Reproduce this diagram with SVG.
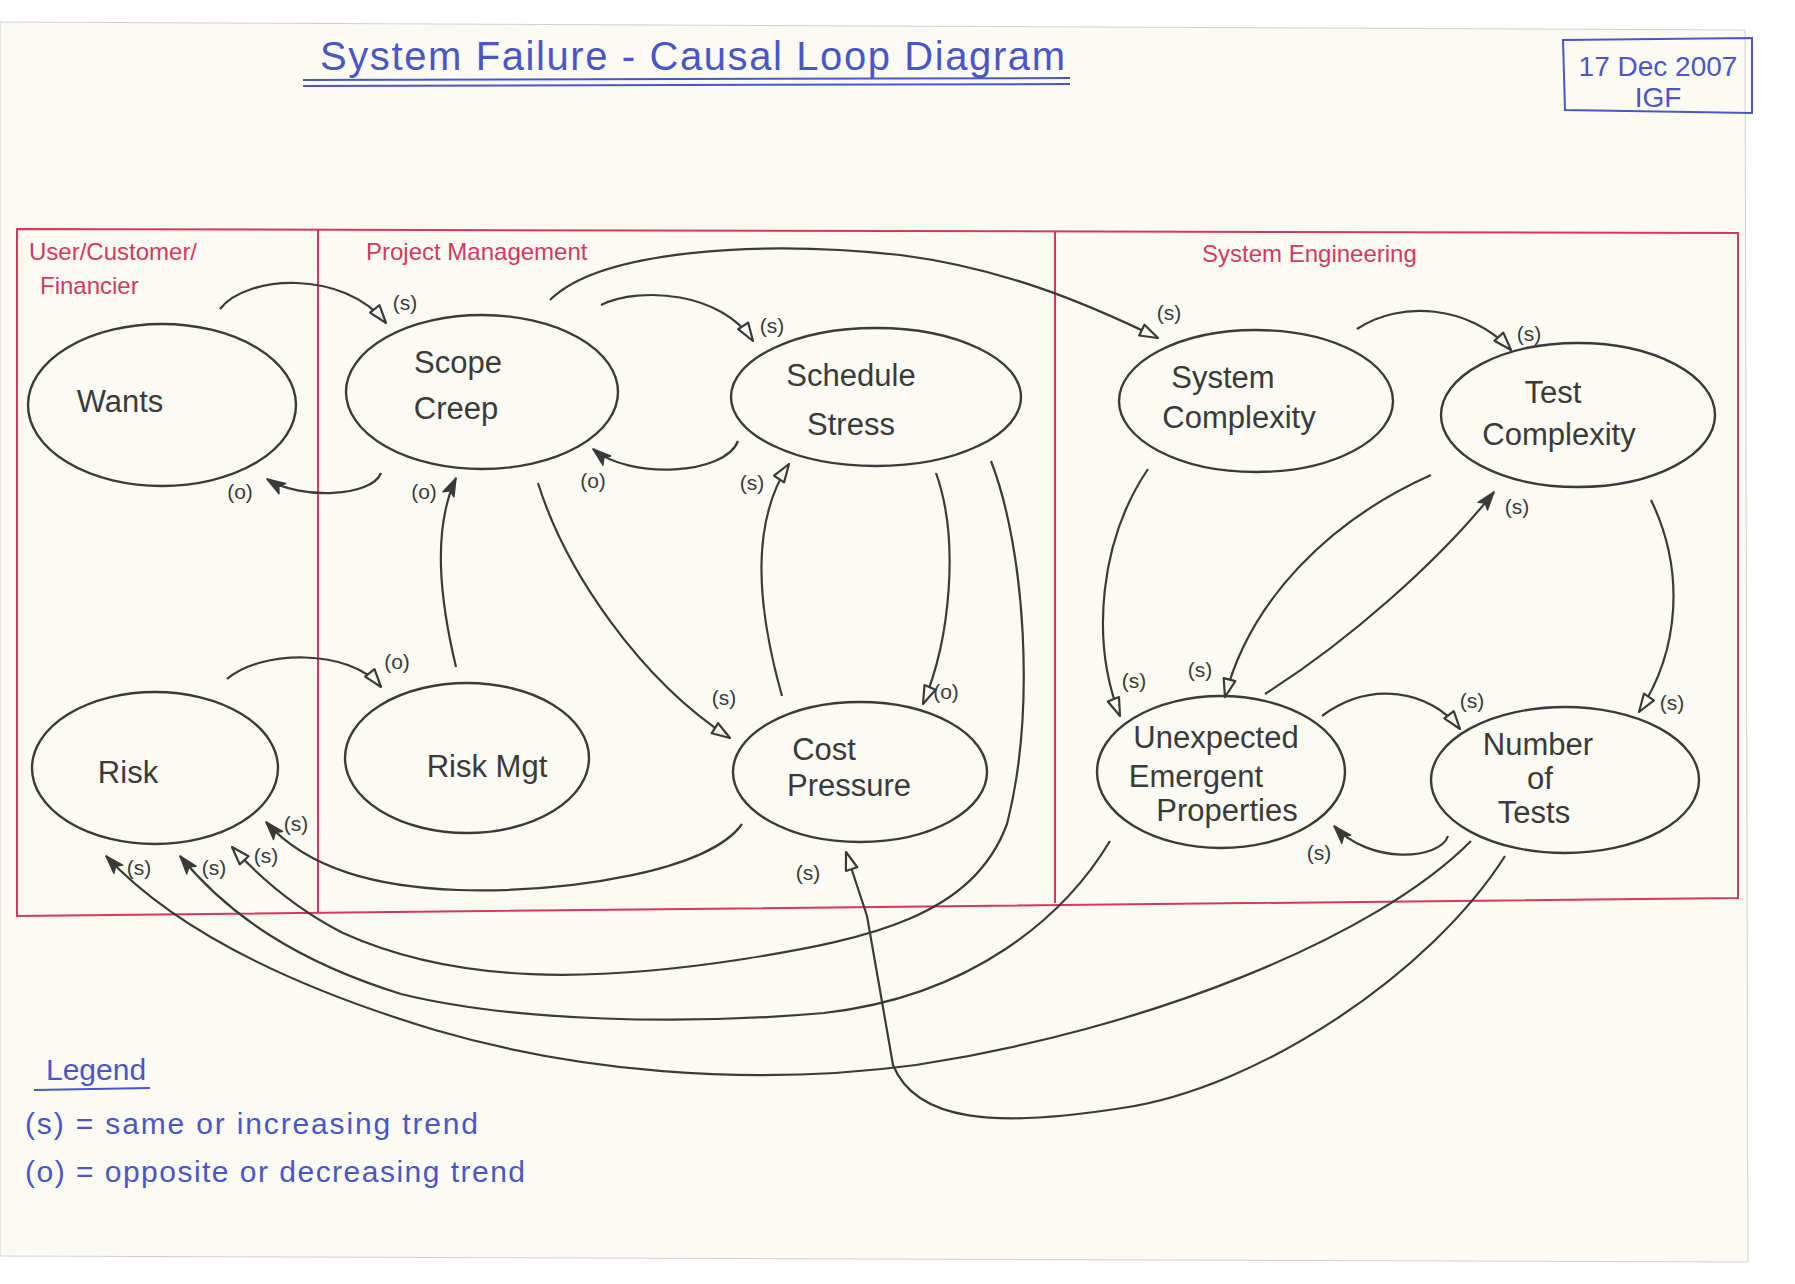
<svg xmlns="http://www.w3.org/2000/svg" width="1795" height="1284" viewBox="0 0 1795 1284">
<defs>
<style>
.node{fill:none;stroke:#3a3a3a;stroke-width:2.4}
.ntext{font-family:"Liberation Sans","DejaVu Sans",sans-serif;font-size:31px;fill:#3a3a3a;text-anchor:middle}
.conn path{fill:none;stroke:#3a3a3a;stroke-width:2.2}
.open{marker-end:url(#openArrow)}
.filled{marker-end:url(#fillArrow)}
.lbl{font-family:"Liberation Sans","DejaVu Sans",sans-serif;font-size:21px;fill:#3a3a3a;text-anchor:middle}
.red{font-family:"Liberation Sans","DejaVu Sans",sans-serif;font-size:24px;fill:#d23a5e}
.blue{font-family:"Liberation Sans","DejaVu Sans",sans-serif;fill:#4a56c8}
.frame{fill:none;stroke:#d8365e;stroke-width:2}
</style>
<marker id="openArrow" viewBox="-2 -2 22 16" refX="18" refY="6" markerWidth="22" markerHeight="16" orient="auto" markerUnits="userSpaceOnUse">
<path d="M0,0 L18,6 L0,12 Z" fill="#fbfbf3" stroke="#3a3a3a" stroke-width="2.2" stroke-linejoin="round"/>
</marker>
<marker id="fillArrow" viewBox="-2 -2 22 16" refX="18" refY="6" markerWidth="22" markerHeight="16" orient="auto" markerUnits="userSpaceOnUse">
<path d="M0,0 L18,6 L0,12 L4,6 Z" fill="#3a3a3a" stroke="#3a3a3a" stroke-width="1.5" stroke-linejoin="round"/>
</marker>
</defs>
<rect x="0" y="0" width="1795" height="1284" fill="#ffffff"/>
<path d="M0,22 L1745,30 L1748,1262 L0,1256 Z" fill="#fbfbf3" stroke="#d0d0d0" stroke-width="1"/>

<g id="title">
<text class="blue" x="320" y="70" font-size="40" textLength="745" lengthAdjust="spacing">System Failure - Causal Loop Diagram</text>
<path d="M303,80 L1070,78 M303,86 L1070,84" stroke="#4a56c8" stroke-width="2" fill="none"/>
</g>
<g id="date">
<path d="M1563,40 L1752,38 L1752,113 L1565,110 Z" fill="none" stroke="#4a56c8" stroke-width="2"/>
<text class="blue" x="1658" y="76" font-size="28" text-anchor="middle">17 Dec 2007</text>
<text class="blue" x="1658" y="107" font-size="28" text-anchor="middle">IGF</text>
</g>

<g id="frame">
<path class="frame" d="M17,229 L1738,233 L1738,898 L17,916 Z"/>
<path class="frame" d="M318,230 L318,913"/>
<path class="frame" d="M1055,232 L1055,903"/>
<text class="red" x="29" y="260">User/Customer/</text>
<text class="red" x="40" y="294">Financier</text>
<text class="red" x="366" y="260">Project Management</text>
<text class="red" x="1202" y="262">System Engineering</text>
</g>

<g id="wants"><ellipse class="node" cx="162" cy="405" rx="134" ry="81"/><text class="ntext" x="120" y="412">Wants</text></g>
<g id="scope-creep"><ellipse class="node" cx="482" cy="392" rx="136" ry="77"/><text class="ntext" x="458" y="373">Scope</text><text class="ntext" x="456" y="419">Creep</text></g>
<g id="schedule-stress"><ellipse class="node" cx="876" cy="397" rx="145" ry="69"/><text class="ntext" x="851" y="386">Schedule</text><text class="ntext" x="851" y="435">Stress</text></g>
<g id="system-complexity"><ellipse class="node" cx="1256" cy="401" rx="137" ry="71"/><text class="ntext" x="1223" y="388">System</text><text class="ntext" x="1239" y="428">Complexity</text></g>
<g id="test-complexity"><ellipse class="node" cx="1578" cy="415" rx="137" ry="72"/><text class="ntext" x="1553" y="403">Test</text><text class="ntext" x="1559" y="445">Complexity</text></g>
<g id="risk"><ellipse class="node" cx="155" cy="768" rx="123" ry="76"/><text class="ntext" x="128" y="783">Risk</text></g>
<g id="risk-mgt"><ellipse class="node" cx="467" cy="758" rx="122" ry="75"/><text class="ntext" x="487" y="777">Risk Mgt</text></g>
<g id="cost-pressure"><ellipse class="node" cx="860" cy="772" rx="127" ry="70"/><text class="ntext" x="824" y="760">Cost</text><text class="ntext" x="849" y="796">Pressure</text></g>
<g id="unexpected-emergent-properties"><ellipse class="node" cx="1221" cy="772" rx="124" ry="76"/><text class="ntext" x="1216" y="748" font-size="27">Unexpected</text><text class="ntext" x="1196" y="787" font-size="27">Emergent</text><text class="ntext" x="1227" y="821" font-size="27">Properties</text></g>
<g id="number-of-tests"><ellipse class="node" cx="1565" cy="780" rx="134" ry="73"/><text class="ntext" x="1538" y="755" font-size="25">Number</text><text class="ntext" x="1540" y="789" font-size="25">of</text><text class="ntext" x="1534" y="823" font-size="25">Tests</text></g>

<g id="connectors" class="conn">
<path class="open" d="M220,309 C246,275 343,269 386,323"/>
<path class="filled" d="M381,473 C372,497 300,500 267,479"/>
<path class="open" d="M601,305 C641,286 721,292 753,341"/>
<path class="filled" d="M738,441 C725,475 630,480 593,449"/>
<path class="filled" d="M456,667 C440,600 432,530 456,478"/>
<path class="open" d="M227,679 C260,650 350,648 381,687"/>
<path class="open" d="M538,483 C565,570 640,680 730,738"/>
<path class="open" d="M782,696 C755,600 752,520 789,464"/>
<path class="open" d="M936,473 C960,540 950,640 923,704"/>
<path class="filled" d="M742,824 C710,870 572,893 458,890 C378,887 309,870 266,822"/>
<path class="open" d="M991,461 C1025,549 1036,710 1007,824 C973,916 870,939 744,959 C595,982 458,985 343,933 C298,910 263,881 232,847"/>
<path class="filled" d="M1110,841 C1065,916 973,996 824,1013 C687,1025 515,1022 401,994 C298,962 229,916 180,856"/>
<path class="filled" d="M1471,841 C1374,939 1145,1030 916,1065 C744,1088 572,1070 435,1030 C286,985 172,927 106,856"/>
<path class="open" d="M1505,856 C1431,973 1259,1088 1122,1108 C996,1128 916,1122 893,1065 L881,996 L867,916 L846,852"/>
<path class="open" d="M550,300 C600,250 760,240 900,255 C1000,268 1080,300 1158,338"/>
<path class="open" d="M1357,329 C1400,300 1470,305 1511,350"/>
<path class="open" d="M1148,469 C1100,540 1090,640 1120,716"/>
<path class="open" d="M1431,475 C1330,520 1250,600 1225,697"/>
<path class="filled" d="M1265,694 C1350,640 1440,560 1494,492"/>
<path class="open" d="M1651,500 C1685,570 1680,650 1639,712"/>
<path class="open" d="M1322,716 C1370,680 1430,690 1460,729"/>
<path class="filled" d="M1448,836 C1440,860 1370,865 1334,826"/>
</g>

<g id="labels">
<text class="lbl" x="405" y="310">(s)</text>
<text class="lbl" x="240" y="499">(o)</text>
<text class="lbl" x="772" y="333">(s)</text>
<text class="lbl" x="593" y="488">(o)</text>
<text class="lbl" x="424" y="499">(o)</text>
<text class="lbl" x="397" y="669">(o)</text>
<text class="lbl" x="724" y="705">(s)</text>
<text class="lbl" x="752" y="490">(s)</text>
<text class="lbl" x="946" y="699">(o)</text>
<text class="lbl" x="296" y="831">(s)</text>
<text class="lbl" x="266" y="863">(s)</text>
<text class="lbl" x="214" y="875">(s)</text>
<text class="lbl" x="139" y="875">(s)</text>
<text class="lbl" x="808" y="880" font-size="26">(s)</text>
<text class="lbl" x="1169" y="320">(s)</text>
<text class="lbl" x="1529" y="341">(s)</text>
<text class="lbl" x="1134" y="688">(s)</text>
<text class="lbl" x="1200" y="677">(s)</text>
<text class="lbl" x="1517" y="514">(s)</text>
<text class="lbl" x="1672" y="710">(s)</text>
<text class="lbl" x="1472" y="708">(s)</text>
<text class="lbl" x="1319" y="860">(s)</text>
</g>

<g id="legend">
<text class="blue" x="46" y="1080" font-size="30">Legend</text>
<path d="M34,1090 L150,1088" stroke="#4a56c8" stroke-width="2" fill="none"/>
<text class="blue" x="25" y="1134" font-size="30" textLength="453" lengthAdjust="spacing">(s) = same or increasing trend</text>
<text class="blue" x="25" y="1182" font-size="30" textLength="500" lengthAdjust="spacing">(o) = opposite or decreasing trend</text>
</g>
</svg>
